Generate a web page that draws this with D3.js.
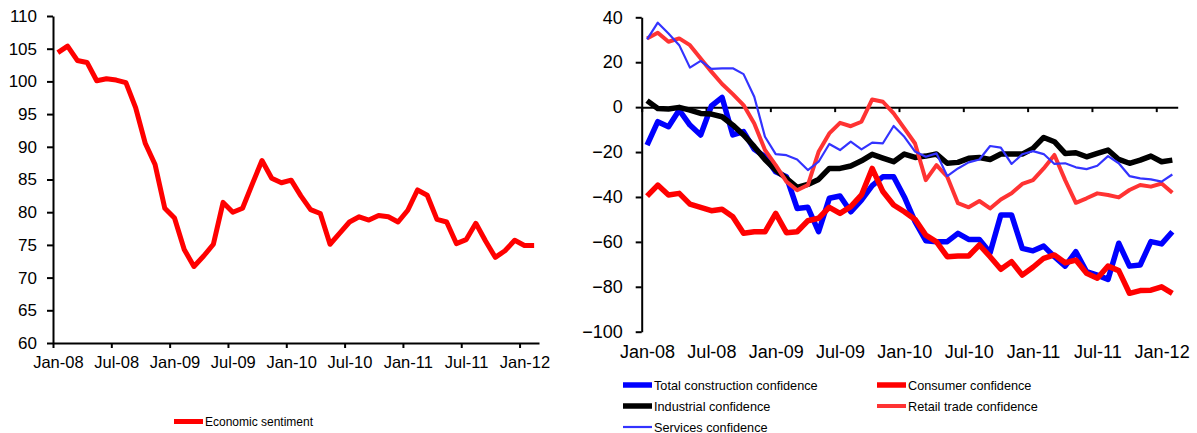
<!DOCTYPE html>
<html>
<head>
<meta charset="utf-8">
<script src="https://cdn.jsdelivr.net/npm/d3@7"></script>
<style>
  body { margin: 0; background: #fff; }
  svg { display: block; font-family: "Liberation Sans", Arial, sans-serif; }
</style>
</head>
<body>
<svg id="chart" width="1197" height="433"></svg>
<script>
// months Jan-08 .. Feb-12
const months = d3.timeMonth.range(new Date(2008, 0, 1), new Date(2012, 2, 1)).map(d3.timeFormat("%b-%y"));
const tickLabels = ["Jan-08", "Jul-08", "Jan-09", "Jul-09", "Jan-10", "Jul-10", "Jan-11", "Jul-11", "Jan-12"];

const economicSentiment = [104.4, 105.4, 103.2, 102.9, 100.1, 100.4, 100.2, 99.8, 96.0, 90.5,
  87.3, 80.6, 79.1, 74.3, 71.7, 73.3, 75.1, 81.5, 80.0, 80.6,
  84.3, 87.9, 85.2, 84.5, 84.9, 82.5, 80.4, 79.8, 75.1, 76.8,
  78.5, 79.3, 78.8, 79.5, 79.3, 78.5, 80.3, 83.4, 82.6, 78.9,
  78.5, 75.2, 75.8, 78.3, 75.6, 73.1, 74.1, 75.7, 74.9, 74.9];

const constructionConf = [-16.9, -6.5, -8.7, -1.3, -8, -12.4, 0.5, 4.3, -12.4, -10.9,
  -18.8, -22.1, -28.8, -31, -45.1, -44.6, -55.5, -40.6, -39.6, -46.6,
  -41.4, -35, -31, -31, -40, -51, -59.5, -59.9, -59.9, -56.2,
  -58.9, -58.9, -64.8, -48, -48, -62.9, -64, -61.9, -66.6, -70.8,
  -64.4, -73.3, -74.8, -76.7, -60.6, -70.8, -70.3, -59.9, -60.9, -55.5];

const consumerConf = [-39.6, -34.7, -39.1, -38.4, -43.2, -44.6, -46.1, -45.5, -48.8, -56.2,
  -55.5, -55.5, -47.3, -55.9, -55.5, -50.6, -49.5, -44.6, -47.3, -44.3,
  -39.1, -27.3, -37.6, -43.6, -46.6, -50, -57, -60, -66.6, -66.3,
  -66.3, -61.4, -66.6, -72.2, -68.8, -74.8, -71.3, -67.3, -65.8, -69.3,
  -68.1, -74, -76.2, -70.8, -72.8, -82.9, -81.7, -81.5, -80, -82.9];

const industrialConf = [2.9, -0.6, -0.8, -0.1, -1.3, -2.8, -3.1, -4.3, -8, -12.4,
  -17.6, -23.3, -28, -31.7, -35.7, -34.4, -32.2, -27.3, -27.3, -26.2,
  -23.9, -21, -22.7, -24.3, -20.9, -22.4, -21.8, -20.9, -25, -24.6,
  -22.8, -22.4, -23.3, -20.9, -20.9, -20.9, -18.4, -13.5, -15.4, -20.6,
  -20.3, -22.1, -20.6, -19.1, -23.3, -25, -23.6, -21.8, -24.3, -23.6];

const retailConf = [30.6, 33.1, 29.1, 30.6, 27.6, 21.7, 15.8, 10.3, 5.8, 0.9,
  -7.3, -19.1, -25.8, -33.2, -37, -34.7, -19.9, -11.7, -7, -8.5,
  -6.5, 3.4, 2.4, -2.8, -9.5, -16.2, -32.5, -25.8, -31, -42.8,
  -44.6, -41.8, -45.1, -41.1, -38.4, -34.2, -32.5, -27.3, -21.3, -32.5,
  -42.6, -40.6, -38.4, -39.1, -40.2, -36.9, -34.7, -35.4, -34, -38.1];

const servicesConf = [30.2, 37.6, 32.8, 27.6, 17.6, 20.6, 17, 17.3, 17.3, 14.7,
  4.6, -13.2, -20.9, -21.4, -23.3, -28, -24.3, -16.4, -19.1, -15.4,
  -18.8, -15.8, -16.1, -8.4, -13.2, -19.8, -22.1, -20.6, -30.7, -27.3,
  -24.6, -23.3, -17.3, -18, -25.3, -21, -19.6, -20.9, -25.3, -25,
  -26.8, -27.6, -26.1, -21.8, -25, -30.7, -31.7, -32.2, -33.2, -30];

const svg = d3.select("#chart");

const tickIdx = tickLabels.map(l => months.indexOf(l));

function drawPanel(g, opt) {
  const x = d3.scaleLinear().domain([0, months.length]).range([opt.left, opt.right]);
  const y = d3.scaleLinear().domain(opt.yDomain).range([opt.bottom, opt.top]);

  // y axis
  const ya = g.append("g")
    .attr("transform", `translate(${opt.left},0)`)
    .call(d3.axisLeft(y).tickValues(d3.range(opt.yDomain[0], opt.yDomain[1] + 1, opt.yStep))
      .tickSize(6).tickPadding(opt.yPad).tickSizeOuter(0));
  ya.select(".domain").attr("stroke", "#000").attr("stroke-width", 2);
  ya.selectAll(".tick line").attr("stroke", "#000").attr("stroke-width", 2);
  ya.selectAll(".tick text").attr("fill", "#000").attr("font-size", opt.yFont)
    .attr("font-family", "Liberation Sans, Arial, sans-serif");

  // x axis (line + tick marks at category boundaries)
  const xa = g.append("g")
    .attr("transform", `translate(0,${y(opt.xCross)})`)
    .call(d3.axisBottom(x).tickValues(tickIdx).tickSize(5).tickSizeOuter(0).tickFormat(""));
  xa.select(".domain").attr("stroke", "#000").attr("stroke-width", 2);
  xa.selectAll(".tick line").attr("stroke", "#000").attr("stroke-width", 2);

  // x labels centred on categories
  const xl = g.append("g")
    .attr("transform", `translate(0,${opt.labelY})`)
    .call(d3.axisBottom(x).tickValues(tickIdx.map(i => i + 0.5)).tickSize(0).tickPadding(0)
      .tickFormat((d, i) => tickLabels[i]));
  xl.select(".domain").remove();
  xl.selectAll(".tick text").attr("fill", "#000").attr("font-size", opt.xFont)
    .attr("dy", "0").attr("font-family", "Liberation Sans, Arial, sans-serif");

  const line = d3.line()
    .x((d, i) => x(i + 0.5))
    .y(d => y(d));

  opt.series.forEach(s => {
    g.append("path")
      .datum(s.values)
      .attr("fill", "none")
      .attr("stroke", s.color)
      .attr("stroke-width", s.width)
      .attr("stroke-linejoin", "round")
      .attr("d", line);
  });
}

const rightSeries = [
  { name: "Total construction confidence", values: constructionConf, color: "#0000ff", width: 5.5 },
  { name: "Consumer confidence", values: consumerConf, color: "#ff0000", width: 5.5 },
  { name: "Industrial confidence", values: industrialConf, color: "#000000", width: 5.5 },
  { name: "Retail trade confidence", values: retailConf, color: "#ff3333", width: 4 },
  { name: "Services confidence", values: servicesConf, color: "#3333ff", width: 2.2 }
];

const leftSeries = [
  { name: "Economic sentiment", values: economicSentiment, color: "#ff0000", width: 5 }
];

drawPanel(svg.append("g"), {
  left: 53, right: 539, top: 16, bottom: 343,
  yDomain: [60, 110], yStep: 5, yFont: 17, yPad: 10, xCross: 60,
  labelY: 367.5, xFont: 16.5, series: leftSeries
});

drawPanel(svg.append("g"), {
  left: 641.7, right: 1177.7, top: 17.3, bottom: 331.7,
  yDomain: [-100, 40], yStep: 20, yFont: 18, yPad: 13, xCross: 0,
  labelY: 358, xFont: 18, series: rightSeries
});

// legends
function legendItem(g, s, x, y, size) {
  g.append("line")
    .attr("x1", x).attr("x2", x + 29).attr("y1", y).attr("y2", y)
    .attr("stroke", s.color).attr("stroke-width", s.width);
  g.append("text")
    .attr("x", x + 31).attr("y", y + 4.5)
    .attr("font-size", size).attr("fill", "#000")
    .text(s.name);
}

const legL = svg.append("g");
legendItem(legL, leftSeries[0], 174, 421.5, 12);

const legR = svg.append("g");
const legPos = [[623, 385], [877, 385], [623, 406], [877, 406], [623, 427]];
rightSeries.forEach((s, i) => legendItem(legR, s, legPos[i][0], legPos[i][1], 12.7));
</script>
</body>
</html>
